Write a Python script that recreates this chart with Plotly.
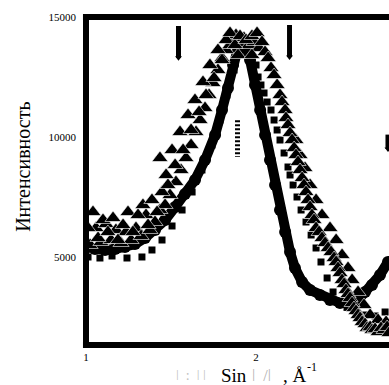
import plotly.graph_objects as go

# ---- data ----
circ_x = [1.012, 1.053, 1.112, 1.171, 1.229, 1.288, 1.347, 1.406, 1.465, 1.524, 1.582, 1.641,
          1.700, 1.759, 1.800, 1.835, 1.865, 1.894, 1.918, 1.941, 1.965, 1.994, 2.024, 2.053,
          2.082, 2.112, 2.141, 2.171, 2.200, 2.229, 2.271, 2.318, 2.376, 2.435, 2.494, 2.553,
          2.600, 2.641, 2.682, 2.729, 2.776]
circ_y = [5417, 5333, 5292, 5333, 5417, 5542, 5792, 6125, 6542, 7083, 7625, 8208,
          9042, 10083, 11125, 12042, 13000, 13708, 13958, 13833, 13208, 12167, 11125, 10083,
          9042, 8000, 6958, 6042, 5208, 4542, 3958, 3625, 3417, 3208, 3083, 3083,
          3208, 3542, 3833, 4250, 4792]

tri_x = [1.012, 1.041, 1.071, 1.100, 1.129, 1.159, 1.188, 1.218, 1.247, 1.276, 1.306, 1.335,
         1.365, 1.388, 1.418, 1.435, 1.447, 1.471, 1.482, 1.506, 1.524, 1.553, 1.571, 1.600,
         1.618, 1.641, 1.665, 1.688, 1.706, 1.729, 1.753, 1.776, 1.800, 1.824, 1.847, 1.876,
         1.906, 1.941, 1.976, 2.006, 2.035, 2.053, 2.071, 2.088, 2.106, 2.124, 2.141, 2.153,
         2.171, 2.176, 2.188, 2.200, 2.212, 2.224, 2.235, 2.247, 2.259, 2.271, 2.282, 2.294,
         2.306, 2.318, 2.329, 2.341, 2.353, 2.371, 2.388, 2.406, 2.424, 2.441, 2.459, 2.471,
         2.482, 2.494, 2.506, 2.518, 2.529, 2.541, 2.553, 2.565, 2.576, 2.588, 2.600, 2.612,
         2.624, 2.641, 2.653, 2.671, 2.682, 2.700, 2.718, 2.735, 2.753, 2.771, 2.782]
tri_y = [6208, 6875, 5792, 6542, 6042, 6625, 5708, 6333, 6875, 6042, 6750, 7167,
         6333, 7375, 6875, 9125, 7708, 8417, 8000, 9458, 8833, 10208, 9458, 10917,
         10292, 11542, 11042, 12292, 11750, 13000, 12458, 13625, 13208, 14042, 14333, 13833,
         14208, 14042, 14208, 14333, 13958, 13542, 13292, 12875, 12583, 12167, 11750, 11458,
         11125, 10792, 10500, 10167, 9875, 9542, 9250, 8958, 8625, 8292, 8000, 7708,
         7375, 7083, 6750, 6542, 6208, 6042, 5792, 5583, 5375, 5208, 4958, 4792,
         4542, 4333, 4042, 3875, 3625, 3458, 3292, 3083, 2875, 2750, 2583, 2458,
         2292, 2208, 2042, 2083, 1958, 2000, 1875, 2042, 1958, 2083, 1833]

# second (denser) layer of the same triangle series
tri2_x = [1.024, 1.059, 1.088, 1.118, 1.147, 1.176, 1.206, 1.235, 1.265, 1.294, 1.324, 1.353,
          1.376, 1.406, 1.435, 1.465, 1.494, 1.529, 1.559, 1.588, 1.618, 1.647, 1.671, 1.700,
          1.724, 1.747, 1.776, 1.800, 1.824, 1.847, 1.871, 1.882, 1.929, 1.959, 1.988, 2.018,
          1.894, 1.976, 2.235, 2.259, 2.288, 2.318, 2.353, 2.388, 2.435, 2.471, 2.506, 2.541,
          2.565, 2.600, 2.635, 2.671, 2.718, 2.765]
tri2_y = [5500, 6208, 5625, 6375, 5708, 6125, 5583, 6042, 5708, 6208, 5875, 6750,
          6125, 6458, 6958, 7167, 7583, 8125, 8625, 9125, 9667, 10208, 10708, 11208,
          11750, 12250, 12792, 13292, 13625, 13833, 14125, 14250, 14125, 13833, 13958, 13708,
          13417, 13417, 9875, 9250, 8708, 8000, 7375, 6750, 6208, 5708, 5083, 4542,
          4042, 3542, 3000, 2583, 2375, 2292]

sq_x = [1.012, 1.082, 1.153, 1.241, 1.329, 1.388, 1.447, 1.506, 1.565, 1.624, 1.682, 1.741,
        1.788, 1.829, 1.871, 1.906, 1.941, 1.976, 2.000, 2.012, 2.029, 2.047, 2.065, 2.088,
        2.106, 2.124, 2.141, 2.165, 2.188, 2.200, 2.218, 2.241, 2.265, 2.294, 2.324, 2.353,
        2.382, 2.418, 2.453, 2.494, 2.535, 2.582, 2.641, 2.700, 2.759]
sq_y = [5000, 4958, 5042, 4958, 5000, 5292, 5708, 6292, 6958, 7708, 8625, 9667,
        10708, 11750, 12792, 13542, 13958, 13708, 13000, 12500, 12167, 11833, 11458, 11125,
        10708, 10292, 9875, 9333, 8750, 8417, 8000, 7500, 6958, 6458, 5917, 5375,
        4792, 4125, 3542, 3125, 2900, 2750, 2583, 2542, 2708]

# peak-position markers (x position, top, bottom)
arrow_x = [1.544, 2.197, 2.776]
arrow_top = [14625, 14667, 10100]
arrow_bot = [13300, 13333, 9500]
dotted_x = [1.891]
dotted_top = [10700]
dotted_bot = [9170]

x_ticks = [1, 2]
y_ticks = [5000, 10000, 15000]

fig = go.Figure()

fig.add_trace(go.Scatter(x=sq_x, y=sq_y, mode="markers",
                         marker=dict(symbol="square", size=7, color="black"),
                         showlegend=False))
fig.add_trace(go.Scatter(x=circ_x, y=circ_y, mode="lines+markers",
                         line=dict(color="black", width=10),
                         marker=dict(symbol="circle", size=12, color="black"),
                         showlegend=False))
for tx, ty in ((tri2_x, tri2_y), (tri_x, tri_y)):
    fig.add_trace(go.Scatter(x=tx, y=ty, mode="markers",
                             marker=dict(symbol="triangle-up", size=14, color="black",
                                         line=dict(color="white", width=0.6)),
                             showlegend=False))

for ax_, t_, b_ in zip(arrow_x, arrow_top, arrow_bot):
    fig.add_trace(go.Scatter(x=[ax_, ax_], y=[t_, b_], mode="lines",
                             line=dict(color="black", width=5), showlegend=False))
    fig.add_trace(go.Scatter(x=[ax_], y=[b_], mode="markers",
                             marker=dict(symbol="triangle-down", size=6, color="black"),
                             showlegend=False))
for dx, t_, b_ in zip(dotted_x, dotted_top, dotted_bot):
    fig.add_trace(go.Scatter(x=[dx, dx], y=[t_, b_], mode="lines",
                             line=dict(color="black", width=5, dash="2px,2px"),
                             showlegend=False))

# frame lines
lw = 6
fig.add_shape(type="line", xref="paper", yref="paper", x0=0, x1=0, y0=-0.009, y1=1.009,
              line=dict(color="black", width=lw))
fig.add_shape(type="line", xref="paper", yref="paper", x0=-0.01, x1=1.0, y0=0, y1=0,
              line=dict(color="black", width=lw))
fig.add_shape(type="line", xref="paper", yref="paper", x0=-0.01, x1=1.0, y0=1, y1=1,
              line=dict(color="black", width=lw))

tickfont = dict(family="Liberation Serif", size=11, color="black")
fig.update_xaxes(range=[1, 2.782], tickvals=x_ticks, ticktext=[str(v) for v in x_ticks],
                 showgrid=False, zeroline=False, showline=False, ticks="",
                 tickfont=tickfont, ticklabelstandoff=4)
fig.update_yaxes(range=[1333, 15000], tickvals=y_ticks, ticktext=[str(v) for v in y_ticks],
                 showgrid=False, zeroline=False, showline=False, ticks="",
                 tickfont=tickfont, ticklabelstandoff=9)

# x-axis title: pieces (faint missing-glyph bars in grey, readable parts in black)
title_parts = [
    ("ǀ  :  ǀ ǀ", 0.347, -0.092, "#c0c0c0", 14),
    ("Sin", 0.488, -0.092, "black", 19),
    ("ǀ  /ǀ", 0.578, -0.092, "#b0b0b0", 16),
    (", Å", 0.691, -0.092, "black", 19),
    ("-1", 0.747, -0.068, "black", 12),
]
for txt, xp, yp, col, fs in title_parts:
    fig.add_annotation(text=txt, xref="paper", yref="paper", x=xp, y=yp,
                       xanchor="center", yanchor="middle", showarrow=False,
                       font=dict(family="Liberation Serif", size=fs, color=col))
fig.add_annotation(text="Интенсивность", xref="paper", yref="paper", x=-0.208, y=0.543,
                   xanchor="center", yanchor="middle", showarrow=False, textangle=-90,
                   font=dict(family="Liberation Serif", size=20, color="black"))

fig.update_layout(width=389, height=385, margin=dict(l=86, r=0, t=17, b=40),
                  paper_bgcolor="white", plot_bgcolor="white")

fig.write_html("out.html")
